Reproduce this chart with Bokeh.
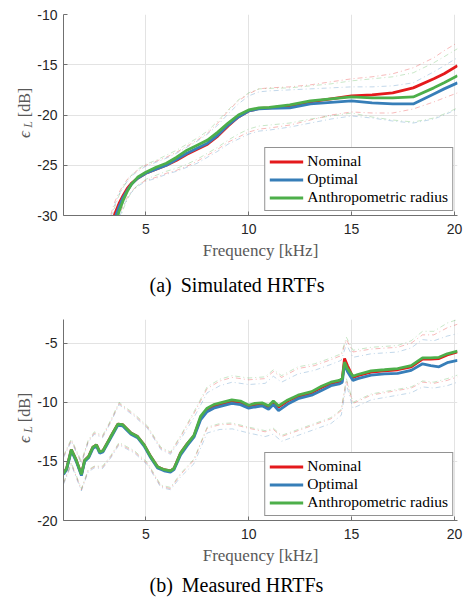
from math import pi
from bokeh.plotting import figure
from bokeh.layouts import column, row
from bokeh.models import FixedTicker, Title
from bokeh.core.properties import value
from bokeh.embed import file_html
from bokeh.resources import INLINE

# ---------------- data: (a) simulated HRTFs ----------------
freq_sim = [3.3, 3.5, 3.7, 3.9, 4.1, 4.3, 4.6, 5.0, 5.5, 6.0, 6.5, 7.0, 7.5, 8.0, 8.5,
            9.0, 9.5, 10.0, 10.5, 11.0, 12.0, 13.0, 14.0, 15.0, 16.0, 17.0, 18.0, 19.0, 19.5, 20.15]
sim_nominal = [-31.2, -29.8, -28.8, -28.0, -27.3, -26.8, -26.3, -25.8, -25.4, -25.0, -24.5, -23.9, -23.4, -22.9, -22.1,
               -21.1, -20.2, -19.6, -19.35, -19.3, -19.1, -18.7, -18.4, -18.1, -18.0, -17.8, -17.3, -16.4, -15.9, -15.1]
sim_optimal = [-31.8, -30.3, -29.1, -28.2, -27.5, -26.9, -26.3, -25.8, -25.4, -25.0, -24.4, -23.8, -23.3, -22.8, -22.0,
               -21.0, -20.2, -19.6, -19.4, -19.35, -19.3, -18.9, -18.75, -18.6, -18.8, -18.9, -18.9, -17.9, -17.4, -16.8]
sim_anthro = [-32.5, -30.9, -29.6, -28.5, -27.6, -26.9, -26.2, -25.7, -25.2, -24.8, -24.2, -23.5, -23.0, -22.5, -21.7,
              -20.8, -20.0, -19.5, -19.3, -19.25, -19.0, -18.6, -18.4, -18.2, -18.3, -18.3, -18.2, -17.3, -16.8, -16.1]
sim_nominal_hi = [-29.9, -28.6, -27.7, -27.0, -26.4, -26.0, -25.5, -25.0, -24.6, -24.2, -23.7, -23.1, -22.5, -21.8, -20.8,
                  -19.6, -18.6, -17.9, -17.4, -17.3, -17.2, -17.0, -16.7, -16.4, -16.2, -15.9, -15.3, -14.3, -13.6, -12.8]
sim_anthro_hi = [-30.5, -29.1, -28.0, -27.2, -26.5, -26.0, -25.4, -24.9, -24.5, -24.0, -23.5, -22.9, -22.3, -21.6, -20.6,
                 -19.5, -18.5, -17.8, -17.4, -17.35, -17.3, -17.1, -16.9, -16.6, -16.4, -16.2, -15.8, -14.8, -14.2, -13.4]
sim_optimal_hi = [-30.2, -28.9, -27.9, -27.2, -26.6, -26.1, -25.6, -25.1, -24.7, -24.3, -23.8, -23.2, -22.6, -21.9, -21.0,
                  -19.9, -18.9, -18.1, -17.7, -17.6, -17.5, -17.4, -17.3, -17.2, -17.2, -17.1, -16.8, -15.7, -15.1, -14.3]
sim_nominal_lo = [-33.0, -31.3, -30.0, -29.0, -28.2, -27.6, -27.0, -26.5, -26.2, -25.8, -25.5, -25.1, -24.6, -24.0, -23.4,
                  -22.7, -22.2, -21.7, -21.4, -21.3, -21.0, -20.5, -20.0, -19.7, -19.8, -19.8, -19.4, -18.7, -18.3, -17.8]
sim_anthro_lo = [-34.0, -32.2, -30.6, -29.4, -28.4, -27.7, -27.0, -26.4, -26.0, -25.6, -25.3, -24.9, -24.4, -23.8, -23.2,
                 -22.5, -21.9, -21.4, -21.1, -21.0, -20.8, -20.4, -20.1, -19.8, -20.2, -20.5, -20.7, -20.3, -19.9, -19.3]
sim_optimal_lo = [-33.5, -31.7, -30.3, -29.2, -28.3, -27.7, -27.1, -26.6, -26.3, -25.9, -25.6, -25.2, -24.8, -24.2, -23.6,
                  -22.9, -22.4, -21.9, -21.6, -21.5, -21.2, -20.8, -20.4, -20.1, -20.3, -20.6, -20.8, -20.4, -20.0, -19.4]

# ---------------- data: (b) measured HRTFs ----------------
freq_meas = [1.0, 1.15, 1.38, 1.62, 1.87, 2.03, 2.22, 2.43, 2.6, 2.76, 2.92, 3.3, 3.64, 3.88, 4.28, 4.6, 4.92, 5.24,
             5.57, 5.89, 6.2, 6.37, 6.69, 7.02, 7.34, 7.66, 7.98, 8.3, 8.62, 9.18, 9.6, 10.0, 10.3, 10.65, 10.97,
             11.2, 11.45, 11.9, 12.4, 13.06, 13.54, 14.0, 14.4, 14.55, 14.66, 14.8, 15.07, 15.3, 15.95, 16.6,
             17.24, 17.9, 18.45, 18.85, 19.25, 19.65, 20.15]
meas_anthro = [-16.0, -15.6, -14.0, -14.9, -16.1, -14.9, -14.6, -13.8, -13.6, -14.2, -14.1, -12.9, -11.85, -11.9,
               -12.6, -12.9, -13.6, -14.6, -15.45, -15.7, -15.8, -15.6, -14.3, -13.5, -12.8, -11.2, -10.5, -10.2,
               -10.05, -9.8, -9.9, -10.25, -10.1, -10.05, -10.3, -9.9, -10.3, -9.8, -9.4, -9.1, -8.65, -8.3, -8.15,
               -8.0, -6.6, -7.15, -7.8, -7.65, -7.35, -7.25, -7.15, -6.9, -6.25, -6.25, -6.2, -5.9, -5.67]
meas_nominal = [-16.0, -15.6, -14.0, -14.9, -16.1, -14.9, -14.6, -13.8, -13.6, -14.2, -14.1, -12.9, -11.85, -11.9,
                -12.6, -12.9, -13.6, -14.6, -15.45, -15.7, -15.8, -15.6, -14.3, -13.5, -12.85, -11.35, -10.65, -10.35,
                -10.2, -9.95, -10.0, -10.35, -10.2, -10.15, -10.4, -10.0, -10.4, -9.9, -9.5, -9.2, -8.75, -8.4, -8.25,
                -8.0, -6.3, -6.9, -7.9, -7.75, -7.45, -7.35, -7.25, -7.0, -6.35, -6.35, -6.3, -6.0, -5.75]
meas_optimal = [-16.1, -15.7, -14.1, -15.0, -16.2, -15.0, -14.7, -13.9, -13.7, -14.3, -14.2, -13.0, -11.95, -12.0,
                -12.7, -13.0, -13.7, -14.7, -15.55, -15.8, -15.9, -15.7, -14.45, -13.65, -12.95, -11.5, -10.8, -10.5,
                -10.35, -10.1, -10.2, -10.5, -10.4, -10.3, -10.6, -10.2, -10.7, -10.15, -9.7, -9.4, -9.0, -8.6, -8.45,
                -8.3, -6.75, -7.4, -8.15, -8.0, -7.7, -7.6, -7.55, -7.3, -6.75, -6.9, -7.0, -6.65, -6.45]
freq_meas_b = [1.0, 1.38, 1.87, 2.2, 2.5, 2.9, 3.3, 3.7, 4.45, 5.08, 5.73, 6.2, 6.7, 7.34, 7.98, 8.6, 9.2, 10.0,
               10.8, 11.2, 11.6, 12.4, 13.2, 14.0, 14.5, 14.75, 15.07, 15.95, 17.24, 17.9, 18.45, 19.0, 19.65, 20.15]
meas_nominal_hi = [-14.6, -13.2, -15.1, -13.3, -12.6, -12.9, -11.6, -10.1, -11.1, -12.1, -13.9, -14.3, -12.9, -10.95,
                   -8.85, -8.2, -7.9, -8.1, -8.0, -7.4, -7.9, -7.15, -6.9, -6.4, -6.05, -4.7, -5.75, -5.5, -5.35,
                   -5.0, -4.3, -4.3, -3.7, -3.4]
meas_anthro_hi = [-14.5, -13.1, -15.0, -13.2, -12.5, -12.8, -11.5, -10.0, -11.0, -12.0, -13.8, -14.2, -12.8, -10.8,
                  -8.7, -8.05, -7.75, -7.95, -7.85, -7.25, -7.75, -7.0, -6.75, -6.25, -5.9, -4.5, -5.6, -5.35, -5.2,
                  -4.8, -4.0, -4.0, -3.3, -3.0]
meas_optimal_hi = [-14.7, -13.3, -15.2, -13.4, -12.7, -13.0, -11.7, -10.2, -11.2, -12.2, -14.0, -14.4, -13.1, -11.3,
                   -9.2, -8.6, -8.3, -8.5, -8.4, -7.8, -8.3, -7.6, -7.3, -6.8, -6.45, -5.1, -6.2, -5.9, -5.75,
                   -5.4, -4.7, -4.8, -4.4, -4.2]
meas_nominal_lo = [-16.85, -15.2, -17.4, -15.8, -15.45, -15.5, -14.6, -13.5, -14.2, -15.2, -17.1, -17.3, -16.1, -14.9,
                   -12.2, -11.9, -11.85, -12.2, -12.5, -12.3, -12.9, -12.4, -11.9, -11.4, -10.7, -8.15, -10.1, -9.4,
                   -9.0, -8.8, -8.3, -8.4, -8.15, -7.85]
meas_anthro_lo = [-16.8, -15.1, -17.3, -15.7, -15.4, -15.4, -14.5, -13.4, -14.1, -15.1, -17.0, -17.2, -16.0, -14.8,
                  -12.1, -11.8, -11.75, -12.1, -12.4, -12.2, -12.8, -12.3, -11.8, -11.3, -10.6, -8.0, -10.0, -9.3,
                  -8.9, -8.7, -8.2, -8.3, -8.0, -7.7]
meas_optimal_lo = [-16.95, -15.3, -17.5, -15.9, -15.55, -15.6, -14.7, -13.6, -14.3, -15.3, -17.2, -17.4, -16.3, -15.2,
                   -12.6, -12.3, -12.25, -12.6, -12.9, -12.7, -13.3, -12.8, -12.3, -11.8, -11.1, -8.5, -10.5, -9.8,
                   -9.4, -9.2, -8.7, -8.8, -8.6, -8.3]

x_ticks = [5, 10, 15, 20]
sim_y_ticks = [-30, -25, -20, -15, -10]
meas_y_ticks = [-20, -15, -10, -5]
series_names = ["Nominal", "Optimal", "Anthropometric radius"]
captions = ["(a)\u00a0\u2009Simulated HRTFs", "(b)\u00a0\u2009Measured HRTFs"]

RED, BLUE, GREEN = "#e41a1c", "#377eb8", "#4daf4a"
AX = "#707070"
LABEL_GRAY = "#595959"
SERIF = "Liberation Serif"
SANS = "Liberation Sans"

LAB_W = 34      # width of the narrow strip that carries the y-axis labels
MAIN_W = 464 - LAB_W
H1, H2 = 306, 296
TOP1, TOP2 = 14, 13          # top borders of the two figures
BOT1, BOT2 = 91, 82          # bottom borders
CAP_STANDOFF = (18, 9)


def make_fig(height, y_range, yticks, top, bottom, caption, cap_standoff):
    p = figure(width=MAIN_W, height=height, x_range=(1, 20.15), y_range=y_range,
               output_backend="svg", toolbar_location=None,
               min_border_left=62 - LAB_W, min_border_right=7, min_border_top=top,
               min_border_bottom=bottom)
    p.outline_line_color = None
    for ax in (p.xaxis[0], p.yaxis[0]):
        ax.axis_line_color = AX
        ax.major_tick_line_color = AX
        ax.major_tick_in = 4
        ax.major_tick_out = 0
        ax.minor_tick_line_color = None
        ax.major_label_text_font = SANS
        ax.major_label_text_font_size = "14px"
        ax.major_label_text_color = "#262626"
    p.xaxis.ticker = FixedTicker(ticks=x_ticks)
    p.yaxis.ticker = FixedTicker(ticks=yticks)
    p.yaxis.major_label_overrides = {t: "%d" % t for t in yticks}
    p.xaxis.major_label_standoff = 8
    p.yaxis.major_label_standoff = 6
    p.xaxis.axis_label = "Frequency [kHz]"
    p.xaxis.axis_label_text_font = SERIF
    p.xaxis.axis_label_text_font_style = "normal"
    p.xaxis.axis_label_text_font_size = "17px"
    p.xaxis.axis_label_text_color = LABEL_GRAY
    p.xaxis.axis_label_standoff = 4
    p.xgrid.ticker = FixedTicker(ticks=x_ticks)
    p.ygrid.ticker = FixedTicker(ticks=yticks)
    p.grid.grid_line_color = "#e3e3e3"
    p.grid.grid_line_width = 1
    p.add_layout(Title(text=caption, align="left", offset=86, text_font=SERIF,
                       text_font_style="normal", text_font_size="20px",
                       text_color="black", standoff=cap_standoff), "below")
    return p


def draw(p, x, mains, xb, his, los):
    for hi, lo, c in zip(his, los, (RED, BLUE, GREEN)):
        p.line(xb, hi, line_color=c, line_width=1, line_alpha=0.3, line_dash="5 3 1 3")
        p.line(xb, lo, line_color=c, line_width=1, line_alpha=0.3, line_dash="5 3 1 3")
    for y, c, name in zip(mains, (RED, BLUE, GREEN), series_names):
        p.line(x, y, line_color=c, line_width=2.8, legend_label=name)
    lg = p.legend[0]
    lg.location = "bottom_right"
    lg.margin = 4
    lg.padding = 4
    lg.spacing = 0
    lg.label_text_font = SERIF
    lg.label_text_font_size = "15.5px"
    lg.label_text_color = "black"
    lg.glyph_width = 34
    lg.glyph_height = 17
    lg.label_height = 17
    lg.label_standoff = 4
    lg.border_line_color = "#262626"
    lg.border_line_width = 1
    lg.background_fill_alpha = 1


p1 = make_fig(H1, (-30, -10), sim_y_ticks, TOP1, BOT1, captions[0], CAP_STANDOFF[0])
draw(p1, freq_sim, [sim_nominal, sim_optimal, sim_anthro], freq_sim,
     [sim_nominal_hi, sim_optimal_hi, sim_anthro_hi], [sim_nominal_lo, sim_optimal_lo, sim_anthro_lo])

p2 = make_fig(H2, (-20, -3), meas_y_ticks, TOP2, BOT2, captions[1], CAP_STANDOFF[1])
draw(p2, freq_meas, [meas_nominal, meas_optimal, meas_anthro], freq_meas_b,
     [meas_nominal_hi, meas_optimal_hi, meas_anthro_hi], [meas_nominal_lo, meas_optimal_lo, meas_anthro_lo])

# narrow strip with the y-axis labels "eps_L [dB]" (pixel coordinates, y downwards)
lab = figure(width=LAB_W, height=H1 + H2, x_range=(0, LAB_W), y_range=(H1 + H2, 0),
             output_backend="svg", toolbar_location=None, x_axis_type=None, y_axis_type=None,
             min_border=0)
lab.outline_line_color = None
lab.grid.visible = False
for frame_top in (TOP1, H1 + TOP2):
    lab.text(x=[24], y=[frame_top + 120], text=["\u03f5"], angle=pi / 2, text_align="center",
             text_baseline="alphabetic", text_color=LABEL_GRAY, text_font=value(SERIF),
             text_font_style="italic", text_font_size="17px")
    lab.text(x=[27], y=[frame_top + 110], text=["L"], angle=pi / 2, text_align="center",
             text_baseline="alphabetic", text_color=LABEL_GRAY, text_font=value(SERIF),
             text_font_style="italic", text_font_size="12px")
    lab.text(x=[24], y=[frame_top + 88], text=["[dB]"], angle=pi / 2, text_align="center",
             text_baseline="alphabetic", text_color=LABEL_GRAY, text_font=value(SERIF),
             text_font_size="16px")

layout = row(lab, column(p1, p2, spacing=0), spacing=0)
open("out.html", "w").write(file_html(layout, INLINE))
